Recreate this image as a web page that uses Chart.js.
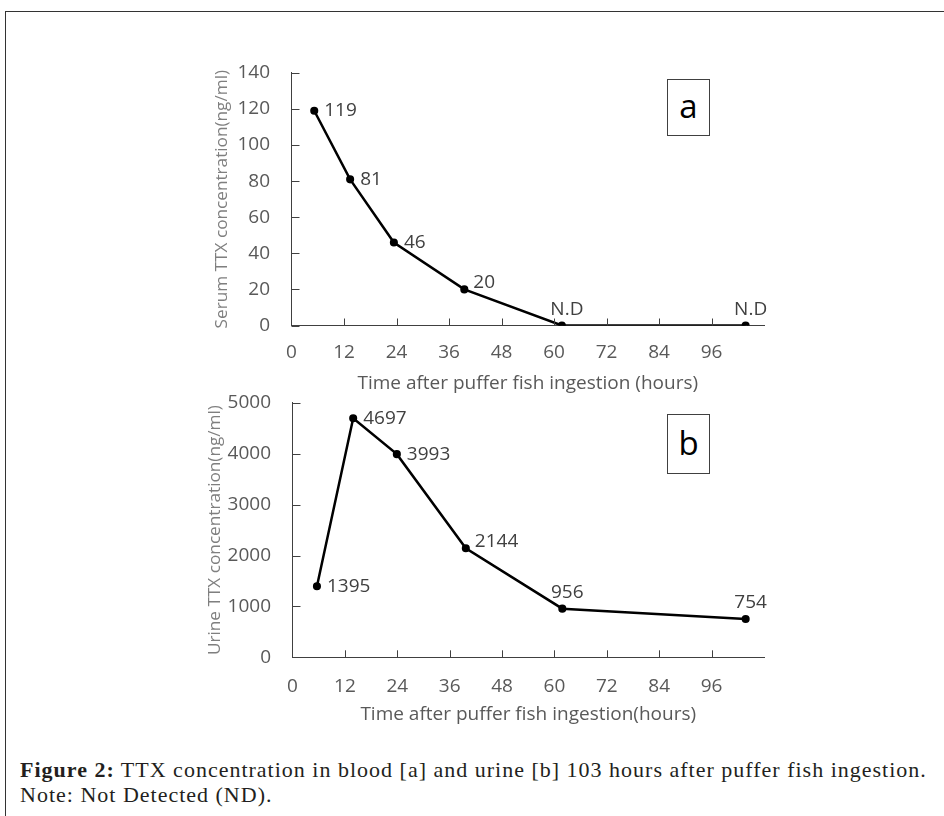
<!DOCTYPE html>
<html>
<head>
<meta charset="utf-8">
<title>TTX concentration</title>
<script src="https://cdn.jsdelivr.net/npm/chart.js@4.4.0/dist/chart.umd.min.js"></script>
<style>
  body {
    margin: 0;
    width: 944px;
    height: 816px;
    overflow: hidden;
    position: relative;
    background: #fff;
    font-family: "Open Sans", sans-serif;
  }
  #frame {
    position: absolute;
    left: 5px;
    top: 11px;
    width: 950px;
    height: 820px;
    border-top: 1px solid #333;
    border-left: 1px solid #333;
  }
  .wrap { position: absolute; left: 180px; width: 600px; height: 360px; }
  #wrap-a { top: 40px; }
  #wrap-b { top: 370px; }
  .tag {
    position: absolute;
    border: 1px solid #404040;
    box-sizing: border-box;
    text-align: center;
    font-size: 33px;
    color: #000;
    background: #fff;
  }
  #tag-a { left: 667px; top: 79px; width: 43px; height: 57px; line-height: 52px; }
  #tag-b { left: 667px; top: 414px; width: 43px; height: 60px; line-height: 56px; }
  #caption {
    position: absolute;
    left: 20px;
    top: 757px;
    font-family: "Liberation Serif", serif;
    font-size: 22px;
    letter-spacing: 1px;
    line-height: 25px;
    color: #231f20;
    white-space: nowrap;
  }
</style>
</head>
<body>
<div id="frame"></div>
<div class="wrap" id="wrap-a"><canvas id="serum-chart" width="600" height="360"></canvas></div>
<div class="wrap" id="wrap-b"><canvas id="urine-chart" width="600" height="360"></canvas></div>
<div class="tag" id="tag-a">a</div>
<div class="tag" id="tag-b">b</div>
<div id="caption"><b>Figure 2:</b> TTX concentration in blood [a] and urine [b] 103 hours after puffer fish ingestion.<br>Note: Not Detected (ND).</div>
<script>
// values
const xTicks = [0, 12, 24, 36, 48, 60, 72, 84, 96];

const serumHours = [5.2, 13.4, 23.4, 39.5, 61.8, 103.8];
const serumValues = [119, 81, 46, 20, 0, 0];
const serumLabels = ["119", "81", "46", "20", "N.D", "N.D"];
const serumPlace = ["right", "right", "right", "upright", "up", "up"];

const urineHours = [5.6, 13.9, 23.9, 39.7, 61.8, 103.8];
const urineValues = [1395, 4697, 3993, 2144, 956, 754];
const urineLabels = ["1395", "4697", "3993", "2144", "956", "754"];
const urinePlace = ["right", "right", "right", "upright", "up", "up"];

// inward tick marks, like the Excel original
const tickMarks = {
  id: "tickMarks",
  afterDraw(chart) {
    const ctx = chart.ctx;
    const x = chart.scales.x;
    const y = chart.scales.y;
    ctx.save();
    ctx.strokeStyle = "#404040";
    ctx.lineWidth = 1;
    x.ticks.forEach((t) => {
      if (t.value === 0) return;
      const px = Math.round(x.getPixelForValue(t.value)) + 0.5;
      ctx.beginPath();
      ctx.moveTo(px, y.bottom);
      ctx.lineTo(px, y.bottom - 7);
      ctx.stroke();
    });
    y.ticks.forEach((t) => {
      const py = Math.round(y.getPixelForValue(t.value)) + 0.5;
      ctx.beginPath();
      ctx.moveTo(x.left, py);
      ctx.lineTo(x.left + 8, py);
      ctx.stroke();
    });
    ctx.restore();
  },
};

// value labels next to each point
const pointLabels = {
  id: "pointLabels",
  afterDatasetsDraw(chart, args, opts) {
    const ctx = chart.ctx;
    const meta = chart.getDatasetMeta(0);
    ctx.save();
    ctx.font = '19px "Open Sans"';
    ctx.fillStyle = "#404040";
    ctx.textBaseline = "middle";
    meta.data.forEach((pt, i) => {
      const place = opts.place[i];
      if (place === "right") {
        ctx.textAlign = "left";
        ctx.fillText(opts.text[i], pt.x + 10, pt.y);
      } else if (place === "upright") {
        ctx.textAlign = "left";
        ctx.fillText(opts.text[i], pt.x + 9, pt.y - 7);
      } else {
        ctx.textAlign = "center";
        ctx.fillText(opts.text[i], pt.x + 5, pt.y - 16);
      }
    });
    ctx.restore();
  },
};

function drawPanel(id, hours, values, text, place, yMax, yStep, yTitle, xTitle, box) {
  const ctx = document.getElementById(id).getContext("2d");
  return new Chart(ctx, {
    type: "line",
    data: {
      datasets: [
        {
          data: hours.map((h, i) => ({ x: h, y: values[i] })),
          borderColor: "#000",
          borderWidth: 2.5,
          pointRadius: 2.8,
          pointBackgroundColor: "#000",
          pointBorderColor: "#000",
          tension: 0,
        },
      ],
    },
    options: {
      responsive: false,
      animation: false,
      layout: { padding: { left: 0, top: box.top, right: 16, bottom: 0 } },
      plugins: {
        legend: { display: false },
        tooltip: { enabled: false },
        pointLabels: { text: text, place: place },
      },
      scales: {
        x: {
          type: "linear",
          min: 0,
          max: 108,
          afterBuildTicks: (s) => {
            s.ticks = xTicks.map((v) => ({ value: v }));
          },
          afterFit: (s) => {
            s.height = box.xHeight;
          },
          grid: { display: false, drawTicks: false },
          border: { display: true, color: "#404040", width: 1 },
          ticks: {
            autoSkip: false,
            maxRotation: 0,
            padding: box.xPad,
            color: "#595959",
            font: { family: "Open Sans", size: 19 },
          },
          title: {
            display: true,
            text: xTitle,
            color: "#595959",
            font: { family: "Open Sans", size: 19 },
            padding: { top: 0, bottom: box.xTitlePad },
          },
        },
        y: {
          min: 0,
          max: yMax,
          afterFit: (s) => {
            s.width = box.yWidth;
          },
          grid: { display: false, drawTicks: false },
          border: { display: true, color: "#404040", width: 1 },
          ticks: {
            stepSize: yStep,
            padding: 21.5,
            color: "#595959",
            font: { family: "Open Sans", size: 19 },
            callback: (v) => String(v),
          },
          title: {
            display: true,
            text: yTitle,
            color: "#7f7f7f",
            font: { family: "Open Sans", size: 17.2 },
            padding: { top: box.yTitlePad, bottom: 0 },
          },
        },
      },
    },
    plugins: [tickMarks, pointLabels],
  });
}

drawPanel(
  "serum-chart",
  serumHours,
  serumValues,
  serumLabels,
  serumPlace,
  140,
  20,
  "Serum TTX concentration(ng/ml)",
  "Time after puffer fish ingestion (hours)",
  { top: 29.3, xHeight: 74.5, xPad: 16.1, xTitlePad: 4.6, yWidth: 111.5, yTitlePad: 31.4 }
);

drawPanel(
  "urine-chart",
  urineHours,
  urineValues,
  urineLabels,
  urinePlace,
  5000,
  1000,
  "Urine TTX concentration(ng/ml)",
  "Time after puffer fish ingestion(hours)",
  { top: 30.7, xHeight: 72.7, xPad: 18.0, xTitlePad: 3.6, yWidth: 112.5, yTitlePad: 24.7 }
);
</script>
</body>
</html>
